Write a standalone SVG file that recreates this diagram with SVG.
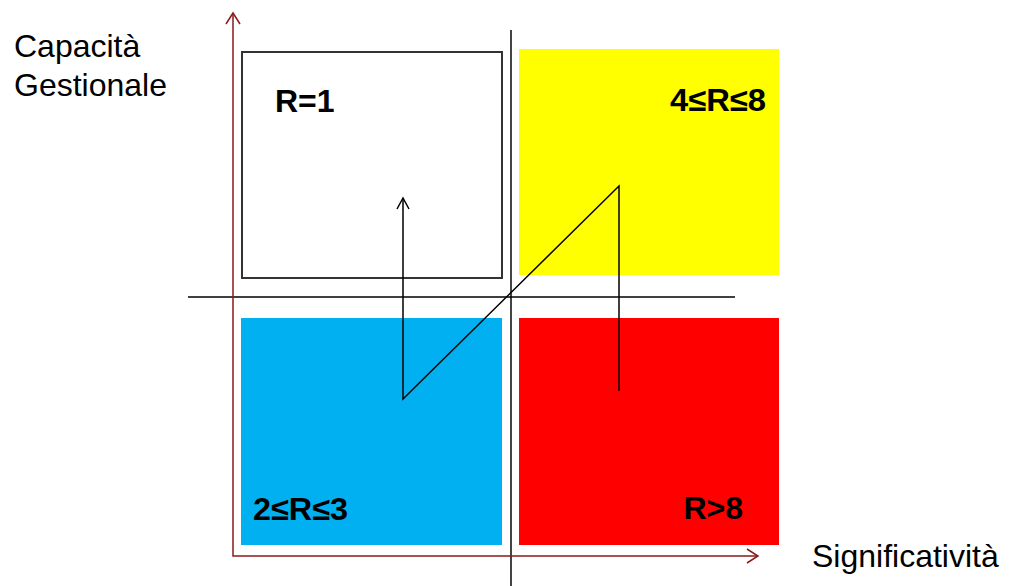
<svg xmlns="http://www.w3.org/2000/svg" width="1011" height="586" viewBox="0 0 1011 586">
<style>
.lbl{font-family:"Liberation Sans",Arial,sans-serif;font-size:32px;fill:#000}
.q{font-family:"Liberation Sans",Arial,sans-serif;font-size:32px;font-weight:bold;fill:#000}
.axis{stroke:#8B1A1A;stroke-width:1.5;fill:none}
.ln{stroke:#000;stroke-width:1.5;fill:none}
</style>
<g id="q-white"><rect x="242" y="52" width="260" height="226" fill="#fff" stroke="#333" stroke-width="2"/><text class="q" x="275" y="112">R=1</text></g>
<g id="q-yellow"><rect x="519" y="49" width="260" height="226" fill="#ffff00"/><text class="q" x="766" y="111" text-anchor="end" textLength="96" lengthAdjust="spacingAndGlyphs">4≤R≤8</text></g>
<g id="q-blue"><rect x="241" y="318" width="261" height="227" fill="#00b0f0"/><text class="q" x="253" y="520" textLength="95" lengthAdjust="spacingAndGlyphs">2≤R≤3</text></g>
<g id="q-red"><rect x="519" y="318" width="260" height="227" fill="#ff0000"/><text class="q" x="743" y="519" text-anchor="end">R&gt;8</text></g>
<g id="connectors">
<line x1="511" y1="30" x2="511" y2="586" stroke="#444" stroke-width="2"/>
<line x1="188" y1="297" x2="735" y2="297" stroke="#000" stroke-width="1.5"/>
<polyline class="axis" points="233,14 233,556 757,556"/>
<path d="M226,24 L233,13 L240,24" class="axis"/>
<path d="M747,549 L758,556 L747,563" class="axis"/>
<polyline class="ln" points="619,391 619,186 403,399 403,199"/>
<path d="M397,209 L403,198 L409,209" class="ln"/>
</g>
<g id="labels">
<text class="lbl" x="14" y="57">Capacità</text>
<text class="lbl" x="14" y="96">Gestionale</text>
<text class="lbl" x="812" y="567">Significatività</text>
</g>
</svg>
